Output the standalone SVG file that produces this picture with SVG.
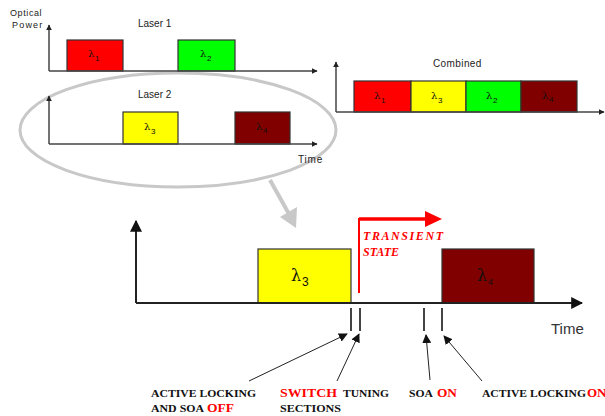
<svg xmlns="http://www.w3.org/2000/svg" width="605" height="416" viewBox="0 0 605 416">
<defs>
<style>
.ax{stroke:#444;stroke-width:1.5;fill:none}
.axb{stroke:#222;stroke-width:2;fill:none}
.box{stroke:#333;stroke-width:1.2}
.sans{font-family:"Liberation Sans",Arial,sans-serif}
.lam{font-family:"DejaVu Serif","Liberation Serif",serif;font-size:10px;fill:#111}
.sub{font-family:"Liberation Sans",Arial,sans-serif;font-size:8px;fill:#111}
.lbl{font-family:"Liberation Serif","Times New Roman",serif;font-weight:bold;font-size:11px;fill:#111}
.rl{font-family:"Liberation Serif","Times New Roman",serif;font-weight:bold;font-size:13px;fill:#ff0000}
.tick{stroke:#444;stroke-width:2}
.cn{stroke:#222;stroke-width:1}
</style>
<marker id="ah" viewBox="0 0 10 10" refX="9" refY="5" markerWidth="9" markerHeight="9" markerUnits="userSpaceOnUse" orient="auto"><path d="M0,0 L10,5 L0,10 z" fill="#111"/></marker>
<marker id="ahb" viewBox="0 0 10 10" refX="9" refY="5" markerWidth="12" markerHeight="12" markerUnits="userSpaceOnUse" orient="auto"><path d="M0,0 L10,5 L0,10 z" fill="#111"/></marker>
<marker id="as" viewBox="0 0 10 10" refX="9" refY="5" markerWidth="6" markerHeight="6" markerUnits="userSpaceOnUse" orient="auto"><path d="M0,0 L10,5 L0,10 z" fill="#222"/></marker>
</defs>
<rect width="605" height="416" fill="#fff"/>

<g id="highlight">
<ellipse cx="178" cy="130" rx="158" ry="57" fill="none" stroke="#c8c8c8" stroke-width="3"/>
</g>

<g id="laser1">
<text class="sans" x="10" y="16" font-size="9" fill="#222" letter-spacing="0.6">Optical</text>
<text class="sans" x="12" y="28" font-size="9" fill="#222" letter-spacing="1.2">Power</text>
<text class="sans" x="138" y="27" font-size="10" fill="#222">Laser 1</text>
<rect class="box" x="67" y="40" width="56" height="31" fill="#ff0000"/>
<rect class="box" x="178" y="40" width="57" height="31" fill="#00ff00"/>
<text class="lam" x="88" y="57">λ</text><text class="sub" x="95" y="61">1</text>
<text class="lam" x="200" y="57">λ</text><text class="sub" x="207" y="61">2</text>
<line class="ax" x1="49" y1="71" x2="49" y2="25" marker-end="url(#as)"/>
<line class="ax" x1="49" y1="71" x2="317" y2="71" marker-end="url(#as)"/>
</g>

<g id="laser2">
<text class="sans" x="138" y="98" font-size="10" fill="#222">Laser 2</text>
<rect class="box" x="123" y="112" width="55" height="32" fill="#ffff00"/>
<rect class="box" x="235" y="112" width="55" height="32" fill="#800000"/>
<text class="lam" x="144" y="130">λ</text><text class="sub" x="151" y="134">3</text>
<text class="lam" x="256" y="130">λ</text><text class="sub" x="263" y="133" font-size="6">4</text>
<line class="ax" x1="49" y1="144" x2="49" y2="96" marker-end="url(#as)"/>
<line class="ax" x1="49" y1="144" x2="317" y2="144" marker-end="url(#as)"/>
<text class="sans" x="298" y="163" font-size="10" fill="#222" letter-spacing="0.8">Time</text>
</g>

<g id="combined">
<text class="sans" x="433" y="67" font-size="10" fill="#222" letter-spacing="0.4">Combined</text>
<rect class="box" x="354" y="81" width="57" height="31" fill="#ff0000"/>
<rect class="box" x="411" y="81" width="55" height="31" fill="#ffff00"/>
<rect class="box" x="466" y="81" width="55" height="31" fill="#00ff00"/>
<rect class="box" x="521" y="81" width="56" height="31" fill="#800000"/>
<text class="lam" x="374" y="99">λ</text><text class="sub" x="381" y="103">1</text>
<text class="lam" x="431" y="99">λ</text><text class="sub" x="438" y="103">3</text>
<text class="lam" x="486" y="99">λ</text><text class="sub" x="493" y="103">2</text>
<text class="lam" x="542" y="99">λ</text><text class="sub" x="549" y="102" font-size="6">4</text>
<line class="ax" x1="336" y1="112" x2="336" y2="62" marker-end="url(#as)"/>
<line class="ax" x1="336" y1="112" x2="604" y2="112" marker-end="url(#as)"/>
</g>

<g id="zoom-arrow">
<line x1="270" y1="180" x2="289" y2="214" stroke="#c8c8c8" stroke-width="4"/>
<path d="M280,217 L296,228 L297,207 z" fill="#c8c8c8"/>
</g>

<g id="detail">
<rect class="box" x="258" y="249" width="93" height="54" fill="#ffff00" stroke-width="1.5"/>
<rect class="box" x="442" y="249" width="92" height="54" fill="#800000" stroke-width="1.5"/>
<text x="291" y="281" font-family="DejaVu Serif,serif" font-size="16" fill="#111">λ</text>
<text x="302" y="286" font-family="Liberation Sans,Arial,sans-serif" font-size="12" fill="#111">3</text>
<text x="477" y="281" font-family="DejaVu Serif,serif" font-size="16" fill="#111">λ</text>
<text x="488" y="285" font-family="Liberation Sans,Arial,sans-serif" font-size="9" fill="#111">4</text>
<line class="axb" x1="136" y1="303" x2="136" y2="221" marker-end="url(#ahb)"/>
<line class="axb" x1="136" y1="303" x2="582" y2="303" marker-end="url(#ahb)"/>
<text class="sans" x="551" y="334" font-size="15" fill="#333">Time</text>
</g>

<g id="transient">
<polyline points="359,293 359,219 426,219" fill="none" stroke="#ff0000" stroke-width="2"/>
<line x1="359" y1="219" x2="426" y2="219" stroke="#ff0000" stroke-width="3.5"/>
<path d="M425,211 L442,219 L425,227 z" fill="#ff0000"/>
<text x="363" y="240" font-family="Liberation Serif,'Times New Roman',serif" font-style="italic" font-weight="bold" font-size="12" fill="#ff0000" textLength="80" lengthAdjust="spacing">TRANSIENT</text>
<text x="363" y="256" font-family="Liberation Serif,'Times New Roman',serif" font-style="italic" font-weight="bold" font-size="12" fill="#ff0000">STATE</text>
</g>

<g id="ticks">
<line class="tick" x1="351" y1="308" x2="351" y2="331"/>
<line class="tick" x1="360" y1="308" x2="360" y2="331"/>
<line class="tick" x1="424" y1="308" x2="424" y2="331"/>
<line class="tick" x1="442" y1="308" x2="442" y2="331"/>
</g>

<g id="connectors">
<line class="cn" x1="249" y1="381" x2="347" y2="334" marker-end="url(#ah)"/>
<line class="cn" x1="337" y1="381" x2="359" y2="334" marker-end="url(#ah)"/>
<line class="cn" x1="430" y1="380" x2="426" y2="335" marker-end="url(#ah)"/>
<line class="cn" x1="482" y1="381" x2="444" y2="336" marker-end="url(#ah)"/>
</g>

<g id="label-off">
<text class="lbl" x="151" y="397" textLength="105" lengthAdjust="spacingAndGlyphs">ACTIVE LOCKING</text>
<text class="lbl" x="151" y="412" textLength="53" lengthAdjust="spacingAndGlyphs">AND SOA</text>
<text class="rl" x="207" y="412" textLength="27" lengthAdjust="spacingAndGlyphs">OFF</text>
</g>
<g id="label-switch">
<text class="rl" x="280" y="397" textLength="57" lengthAdjust="spacingAndGlyphs">SWITCH</text>
<text class="lbl" x="343" y="397" textLength="46" lengthAdjust="spacingAndGlyphs">TUNING</text>
<text class="lbl" x="280" y="412" textLength="61" lengthAdjust="spacingAndGlyphs">SECTIONS</text>
</g>
<g id="label-soa">
<text class="lbl" x="409" y="397" textLength="24" lengthAdjust="spacingAndGlyphs">SOA</text>
<text class="rl" x="437" y="397" textLength="20" lengthAdjust="spacingAndGlyphs">ON</text>
</g>
<g id="label-on">
<text class="lbl" x="482" y="397" textLength="104" lengthAdjust="spacingAndGlyphs">ACTIVE LOCKING</text>
<text class="rl" x="587" y="397">ON</text>
</g>
</svg>
